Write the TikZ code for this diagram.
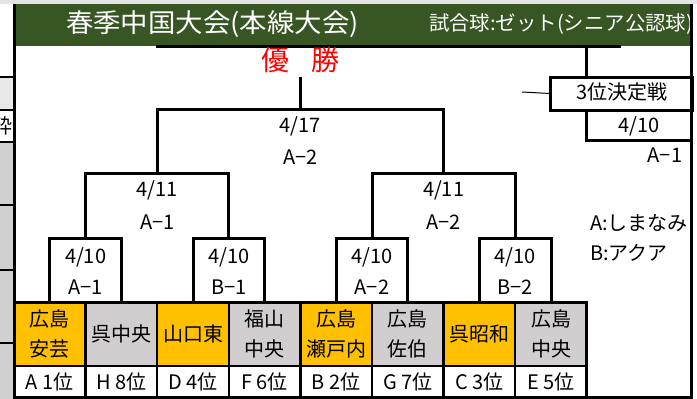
\documentclass[tikz,border=0pt]{standalone}
\usepackage{fontspec}
\usepackage{graphicx}
\setmainfont{Noto Sans CJK JP}
\definecolor{hdrgreen}{HTML}{375623}
\definecolor{teamorange}{HTML}{FFC000}
\definecolor{teamgray}{HTML}{D0CECE}
\definecolor{stripgray}{HTML}{D0D0D0}
\definecolor{stripgrayb}{HTML}{E8E8E8}
\definecolor{topgray}{HTML}{E4E4E4}
\begin{document}
\begin{tikzpicture}[x=1pt,y=-1pt,
  every node/.style={inner sep=0pt, outer sep=0pt},
  txt/.style={font=\fontsize{20}{30}\selectfont},
  bline/.style={line width=3pt, line join=miter},
  team/.style={txt, draw=black, line width=2.5pt, minimum width=71.6pt, minimum height=64pt, align=center},
  rank/.style={txt, draw=black, line width=2.5pt, fill=white, minimum width=71.6pt, minimum height=31pt},
  strip/.style={line width=1.2pt, black}
]
\useasboundingbox (0,0) rectangle (697,399);
% background
\fill[white] (0,0) rectangle (697,399);
\fill[topgray] (0,0) rectangle (697,3.5);
% left strip
\fill[stripgrayb] (0,77) rectangle (13,110);
\fill[stripgray] (0,142) rectangle (13,399);
\begin{scope}
  \clip (0,110) rectangle (13,142);
  \node[txt, anchor=east] (cut) at (12.5,126) {粋};
\end{scope}
\draw[strip] (0,77) -- (13,77);
\draw[strip] (0,110) -- (13,110);
\draw[strip] (0,142) -- (13,142);
\draw[strip] (0,205) -- (16,205);
\draw[strip] (0,270) -- (16,270);
\draw[strip] (0,343) -- (16,343);
% header
\fill[hdrgreen] (14,3.5) rectangle (692,46);
\begin{scope}
  \clip (14,3.5) rectangle (690.5,46);
  \node[anchor=west, text=white, font=\fontsize{26}{28}\selectfont] (title) at (66,24) {\scalebox{1.055}[1]{春季中国大会(本線大会)}};
  \node[anchor=west, text=white, font=\fontsize{20}{22}\selectfont] (ball) at (429,24) {\scalebox{1.02}[1]{試合球:ゼット(シニア公認球)}};
\end{scope}
\draw[bline] (156,46) -- (621,46);
% teams
\node[team, fill=teamorange] (t1) at (49.8,334) {広島\\安芸};
\node[team, fill=teamgray]   (t2) at (121.4,334) {呉中央};
\node[team, fill=teamorange] (t3) at (193.0,334) {山口東};
\node[team, fill=teamgray]   (t4) at (264.6,334) {福山\\中央};
\node[team, fill=teamorange] (t5) at (336.2,334) {広島\\瀬戸内};
\node[team, fill=teamgray]   (t6) at (407.8,334) {広島\\佐伯};
\node[team, fill=teamorange] (t7) at (479.4,334) {呉昭和};
\node[team, fill=teamgray]   (t8) at (551.0,334) {広島\\中央};
% ranks
\node[rank] (r1) at (49.8,381.5) {A\ 1位};
\node[rank] (r2) at (121.4,381.5) {H\ 8位};
\node[rank] (r3) at (193.0,381.5) {D\ 4位};
\node[rank] (r4) at (264.6,381.5) {F\ 6位};
\node[rank] (r5) at (336.2,381.5) {B\ 2位};
\node[rank] (r6) at (407.8,381.5) {G\ 7位};
\node[rank] (r7) at (479.4,381.5) {C\ 3位};
\node[rank] (r8) at (551.0,381.5) {E\ 5位};
% outer frame
\draw[bline] (14,302) -- (586.8,302);
\draw[bline] (586.8,302) -- (586.8,397);
\draw[bline] (14,397) -- (692,397);
\draw[bline] (14,3.5) -- (14,398.5);
% bracket
\coordinate (m1) at (85.6,238);
\coordinate (m2) at (228.8,238);
\coordinate (m3) at (372.0,238);
\coordinate (m4) at (515.2,238);
\coordinate (s1) at (157.2,173);
\coordinate (s2) at (443.6,173);
\coordinate (fin) at (300.4,109);
\coordinate (champ) at (300.4,77);
\draw[bline] (t1.north) |- (m1) -| (t2.north);
\draw[bline] (t3.north) |- (m2) -| (t4.north);
\draw[bline] (t5.north) |- (m3) -| (t6.north);
\draw[bline] (t7.north) |- (m4) -| (t8.north);
\draw[bline] (m1) |- (s1) -| (m2);
\draw[bline] (m3) |- (s2) -| (m4);
\draw[bline] (s1) |- (fin) -| (s2);
\draw[bline] (fin) -- (champ);
% bracket labels
\node[txt] (d1) at (85.6,257) {4/10};
\node[txt] (g1) at (85.6,287) {A−1};
\node[txt] (d2) at (228.8,257) {4/10};
\node[txt] (g2) at (228.8,287) {B−1};
\node[txt] (d3) at (372.0,257) {4/10};
\node[txt] (g3) at (372.0,287) {A−2};
\node[txt] (d4) at (515.2,257) {4/10};
\node[txt] (g4) at (515.2,287) {B−2};
\node[txt] (d5) at (157.2,190) {4/11};
\node[txt] (g5) at (157.2,222) {A−1};
\node[txt] (d6) at (443.6,190) {4/11};
\node[txt] (g6) at (443.6,222) {A−2};
\node[txt] (d7) at (300.4,126) {4/17};
\node[txt] (g7) at (300.4,157) {A−2};
% champion
\node[text=red, font=\fontsize{28}{30}\selectfont] (yu) at (275,60) {優};
\node[text=red, font=\fontsize{28}{30}\selectfont] (sho) at (325,60) {勝};
% third place
\coordinate (tp) at (586,46);
\coordinate (tpl) at (522,92);
\node[txt, draw=black, line width=3pt, minimum width=142pt, minimum height=33pt, anchor=north west] (third) at (550,77) {};
\node[txt] (thirdtxt) at (622,92) {3位決定戦};
\draw[bline] (tp) -- (third.north -| tp);
\draw[line width=1pt] (tpl) -- (third.west);
\draw[bline] (third.south -| tp) |- (692,140);
\node[txt] (d8) at (639,126) {4/10};
\node[txt] (g8) at (665,155) {A−1};
% legend
\node[txt, anchor=west] (la) at (590,223) {A:しまなみ};
\node[txt, anchor=west] (lb) at (590,253) {B:アクア};
\draw[bline] (691.5,3.5) -- (691.5,398.5);
\end{tikzpicture}
\end{document}
